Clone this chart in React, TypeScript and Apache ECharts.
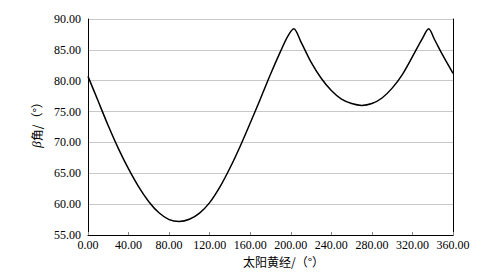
import React, { useEffect, useRef } from "react";
import * as echarts from "echarts";

const solarLongitude = [0, 10, 20, 30, 40, 50, 60, 70, 80, 90, 100, 110, 120, 130, 140, 150, 160, 170, 180, 190, 197, 203, 210, 220, 230, 240, 250, 260, 270, 280, 290, 300, 310, 320, 330, 336, 342, 350, 360];
const betaAngle = [80.7, 76.7, 72.7, 69.0, 65.7, 62.8, 60.4, 58.6, 57.5, 57.2, 57.55, 58.55, 60.25, 62.75, 65.85, 69.35, 73.15, 77.05, 81.05, 84.8, 87.2, 88.4, 86.3, 83.0, 80.4, 78.4, 77.0, 76.3, 76.0, 76.3, 77.2, 78.8, 81.0, 83.9, 86.9, 88.4, 86.6, 84.1, 81.2];
const xTicks = { min: 0, max: 360, interval: 40 };
const yTicks = { min: 55, max: 90, interval: 5 };

const serif = "'Times New Roman', 'Liberation Serif', serif";
const cjk = "'Noto Sans CJK SC', sans-serif";

export default function App() {
  const ref = useRef<HTMLDivElement>(null);
  useEffect(() => {
    if (!ref.current) return;
    const chart = echarts.init(ref.current, undefined, { renderer: "svg" });
    const data = solarLongitude.map((x, i) => [x, betaAngle[i]]);
    chart.setOption({
      animation: false,
      backgroundColor: "#fff",
      grid: { left: 88, right: 46, top: 19, bottom: 45, containLabel: false },
      xAxis: {
        type: "value",
        min: xTicks.min,
        max: xTicks.max,
        interval: xTicks.interval,
        name: "太阳黄经/（°）",
        nameLocation: "middle",
        nameGap: 20,
        nameTextStyle: { fontFamily: cjk, fontSize: 12, color: "#000", padding: [0, 0, 0, 26] },
        axisLine: { show: true, lineStyle: { color: "#000", width: 1 } },
        axisTick: { show: true, inside: true, length: 3, lineStyle: { color: "#888" } },
        axisLabel: {
          formatter: (v: number) => v.toFixed(2),
          fontFamily: serif,
          fontSize: 12,
          color: "#000",
          margin: 4,
        },
        splitLine: { show: false },
      },
      yAxis: [
        {
          type: "value",
          min: yTicks.min,
          max: yTicks.max,
          interval: yTicks.interval,
          name: "{i|β}角/（°）",
          nameLocation: "middle",
          nameGap: 22,
          nameTextStyle: {
            fontFamily: cjk,
            fontSize: 12,
            color: "#000",
            padding: [0, 0, 0, 10],
            rich: { i: { fontFamily: serif, fontStyle: "italic", fontSize: 13, color: "#000" } },
          },
          axisLine: { show: true, lineStyle: { color: "#000", width: 1 } },
          axisTick: { show: false },
          axisLabel: {
            formatter: (v: number) => v.toFixed(2),
            fontFamily: serif,
            fontSize: 12,
            color: "#000",
            margin: 7,
          },
          splitLine: { show: true, lineStyle: { color: "#c8c8c8", width: 1 } },
        },
        {
          type: "value",
          position: "right",
          min: yTicks.min,
          max: yTicks.max,
          interval: yTicks.interval,
          axisLine: { show: true, lineStyle: { color: "#000", width: 1 } },
          axisTick: { show: false },
          axisLabel: { show: false },
          splitLine: { show: false },
        },
      ],
      series: [
        {
          type: "line",
          data,
          smooth: 0.3,
          showSymbol: false,
          symbol: "none",
          lineStyle: { color: "#000", width: 1.5 },
        },
      ],
    });
    return () => chart.dispose();
  }, []);
  return <div ref={ref} style={{ width: 499, height: 280, margin: -8 }} />;
}
